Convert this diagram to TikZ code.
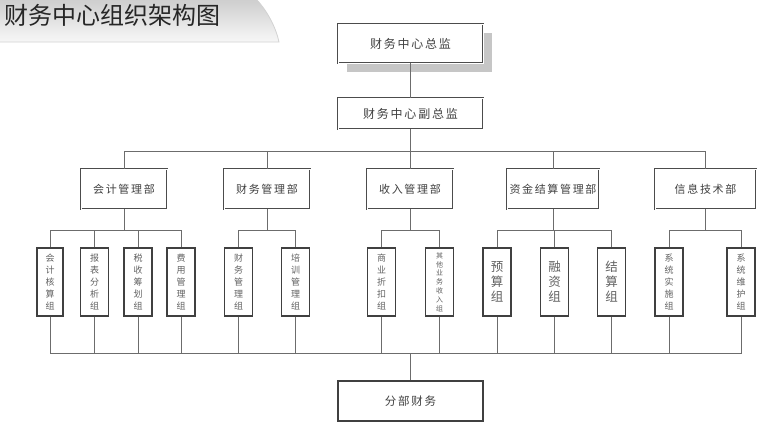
\documentclass[tikz,border=0pt]{standalone}
\usepackage{fontspec}
\setmainfont{Noto Sans CJK SC}
\newfontfamily\boxfont[LetterSpace=15]{Noto Sans CJK SC}
\usetikzlibrary{shadows}
\begin{document}
\begin{tikzpicture}[x=1pt,y=-1pt,
  conn/.style={draw=gray!85!black, line width=0.8pt},
  bigbox/.style={draw=black!70, double=white, double distance=0.9pt, line width=0.7pt, fill=white,
    font=\boxfont\fontsize{12}{14}\selectfont, text=black!75, minimum width=145pt, minimum height=39pt, inner sep=0pt},
  deptbox/.style={bigbox, minimum width=86pt, minimum height=40pt, font=\boxfont\fontsize{11}{13}\selectfont},
  subbox/.style={draw=black!75, line width=1.1pt, fill=white, minimum width=28pt, minimum height=68pt,
    inner sep=0pt, align=center, text=black!62, font=\fontsize{9}{12}\selectfont},
  bigsub/.style={subbox, font=\fontsize{12.5}{15}\selectfont},
  tinysub/.style={subbox, font=\fontsize{7}{8.8}\selectfont},
  basebox/.style={draw=black!75, line width=1.2pt, fill=white, minimum width=145pt, minimum height=40pt,
    inner sep=0pt, font=\boxfont\fontsize{11.5}{13}\selectfont, text=black!75}]
\useasboundingbox (0,0) rectangle (770,429);
% title banner
\shade[top color=gray!38, bottom color=gray!6] (0,0) -- (257,0) .. controls (268,12) and (276,28) .. (279,42) -- (0,42) -- cycle;
\draw[gray!35, line width=0.8pt] (257,0) .. controls (268,12) and (276,28) .. (279,42) -- (0,42);
\node[anchor=west, inner sep=0pt, font=\fontsize{24}{24}\selectfont, text=black!85] (title) at (4,15) {财务中心组织架构图};
% top levels
\fill[gray!45] (347,33) rectangle (492,72);
\node[bigbox] (top) at (410.5,43.5) {财务中心总监};
\node[bigbox, minimum height=31pt] (vice) at (410.5,113.5) {财务中心副总监};
% departments
\node[deptbox] (d1) at (124,189) {会计管理部};
\node[deptbox] (d2) at (267,189) {财务管理部};
\node[deptbox] (d3) at (410,189) {收入管理部};
\node[deptbox, minimum width=92pt] (d4) at (553,189) {资金结算管理部};
\node[deptbox, minimum width=101pt] (d5) at (705.5,189) {信息技术部};
% groups
\node[subbox, minimum width=26pt] (s1) at (50,282) {会\\计\\核\\算\\组};
\node[subbox] (s2) at (94.5,282) {报\\表\\分\\析\\组};
\node[subbox] (s3) at (138,282) {税\\收\\筹\\划\\组};
\node[subbox] (s4) at (181,282) {费\\用\\管\\理\\组};
\node[subbox] (s5) at (238.5,282) {财\\务\\管\\理\\组};
\node[subbox] (s6) at (295.5,282) {培\\训\\管\\理\\组};
\node[subbox] (s7) at (381.5,282) {商\\业\\折\\扣\\组};
\node[tinysub] (s8) at (439.5,282) {其\\他\\业\\务\\收\\入\\组};
\node[bigsub] (s9) at (497,282) {预\\算\\组};
\node[bigsub] (s10) at (554.5,282) {融\\资\\组};
\node[bigsub] (s11) at (611.5,282) {结\\算\\组};
\node[subbox] (s12) at (669,282) {系\\统\\实\\施\\组};
\node[subbox] (s13) at (741,282) {系\\统\\维\\护\\组};
% base
\node[basebox] (base) at (410.5,401) {分部财务};
% connectors
\coordinate (hub) at (410,151);
\coordinate (br) at (0,230);
\coordinate (bot) at (0,353);
\draw[conn] (top) -- (vice);
\draw[conn] (vice.south) -- (vice.south |- hub);
\draw[conn] (d1.north) |- (d5.north |- hub) -- (d5.north);
\foreach \d in {d2,d3,d4} \draw[conn] (\d.north) -- (\d.north |- hub);
% branches
\draw[conn] (s1.north) |- (s4.north |- br) -- (s4.north);
\draw[conn] (d1.south) -- (d1.south |- br);
\draw[conn] (s2.north) -- (s2.north |- br);
\draw[conn] (s3.north) -- (s3.north |- br);
\draw[conn] (s5.north) |- (s6.north |- br) -- (s6.north);
\draw[conn] (d2.south) -- (d2.south |- br);
\draw[conn] (s7.north) |- (s8.north |- br) -- (s8.north);
\draw[conn] (d3.south) -- (d3.south |- br);
\draw[conn] (s9.north) |- (s11.north |- br) -- (s11.north);
\draw[conn] (d4.south) -- (d4.south |- br);
\draw[conn] (s10.north) -- (s10.north |- br);
\draw[conn] (s12.north) |- (s13.north |- br) -- (s13.north);
\draw[conn] (d5.south) -- (d5.south |- br);
% bottom
\draw[conn] (s1.south) |- (s13.south |- bot) -- (s13.south);
\foreach \s in {s2,s3,s4,s5,s6,s7,s8,s9,s10,s11,s12} \draw[conn] (\s.south) -- (\s.south |- bot);
\draw[conn] (base.north) -- (base.north |- bot);
\end{tikzpicture}
\end{document}
